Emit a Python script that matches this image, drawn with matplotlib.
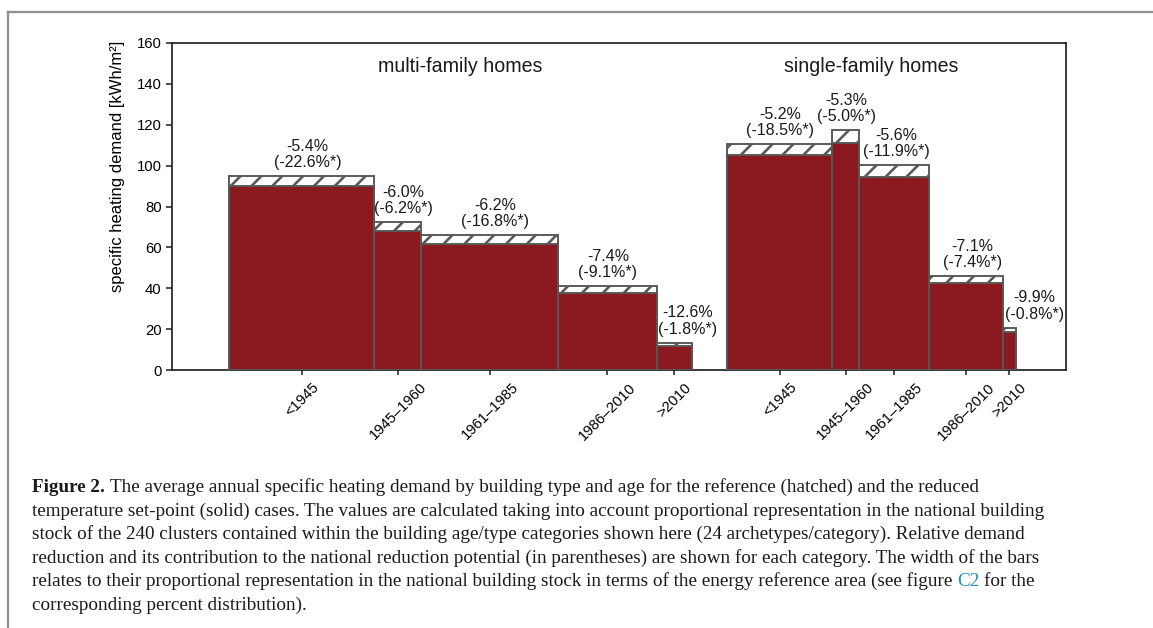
import matplotlib
matplotlib.use("Agg")
import matplotlib.pyplot as plt
from matplotlib.lines import Line2D
import numpy as np

# ---- data -------------------------------------------------------------
age_classes = ["<1945", "1945–1960", "1961–1985", "1986–2010", ">2010"]

# share of national energy reference area [%] (bar widths)
share_mf = [19.3, 6.3, 18.2, 13.1, 4.7]
share_sf = [14.0, 3.5, 9.4, 9.8, 1.7]

# specific heating demand [kWh/m2], reference set-point (hatched)
ref_mf = [95.0, 72.5, 65.9, 40.9, 13.4]
ref_sf = [110.7, 117.2, 100.2, 46.1, 20.7]

# specific heating demand [kWh/m2], reduced set-point (solid)
red_mf = [89.8, 68.1, 61.7, 37.9, 11.6]
red_sf = [105.0, 110.9, 94.6, 42.6, 18.5]

# relative reduction [%] and contribution to national potential [%]
rel_mf = [-5.4, -6.0, -6.2, -7.4, -12.6]
nat_mf = [-22.6, -6.2, -16.8, -9.1, -1.8]
rel_sf = [-5.2, -5.3, -5.6, -7.1, -9.9]
nat_sf = [-18.5, -5.0, -11.9, -7.4, -0.8]

group_titles = ["multi-family homes", "single-family homes"]
y_ticks = [0, 20, 40, 60, 80, 100, 120, 140, 160]

caption_lines = [
    [("Figure 2.", "bold", "#1a1a1a"),
     ("The average annual specific heating demand by building type and age for the reference (hatched) and the reduced",
      "normal", "#1a1a1a")],
    [("temperature set-point (solid) cases. The values are calculated taking into account proportional representation in the national building",
      "normal", "#1a1a1a")],
    [("stock of the 240 clusters contained within the building age/type categories shown here (24 archetypes/category). Relative demand",
      "normal", "#1a1a1a")],
    [("reduction and its contribution to the national reduction potential (in parentheses) are shown for each category. The width of the bars",
      "normal", "#1a1a1a")],
    [("relates to their proportional representation in the national building stock in terms of the energy reference area (see figure",
      "normal", "#1a1a1a"),
     ("C2", "normal", "#2a8cc4"),
     ("for the", "normal", "#1a1a1a")],
    [("corresponding percent distribution).", "normal", "#1a1a1a")],
]

# ---- style ------------------------------------------------------------
plt.rcParams['font.family'] = ['Liberation Sans', 'DejaVu Sans']
plt.rcParams['hatch.linewidth'] = 1.5

W, H, DPI = 1153, 628, 125
BAR_RED = '#8a1a20'
EDGE = '#585858'
SPINE = '#222222'

fig = plt.figure(figsize=(W / DPI, H / DPI), dpi=DPI)
ax = fig.add_axes([172 / W, 1 - 370 / H, (1066 - 172) / W, (370 - 43) / H])

group_gap = 4.7
starts = [0.0, sum(share_mf) + group_gap]
label_dx = [[6, 5.5, 5, 0.5, 13.5], [0, 1, 2.7, 6, 25]]  # label nudges in px


def draw_group(x0, shares, ref, red, rel, nat, dx):
    shares = np.asarray(shares)
    lefts = x0 + np.concatenate([[0.0], np.cumsum(shares)[:-1]])
    centers = lefts + shares / 2
    ax.bar(lefts, ref, width=shares, align='edge', facecolor='white',
           edgecolor=EDGE, hatch='//', linewidth=1.1, zorder=2)
    ax.bar(lefts, red, width=shares, align='edge', facecolor=BAR_RED,
           edgecolor=EDGE, linewidth=1.1, zorder=3)
    for c, r, a, b, o in zip(centers, ref, rel, nat, dx):
        ax.annotate(f"{a:.1f}%\n({b:.1f}%*)", xy=(c, r), xytext=(o, 6),
                    textcoords='offset pixels', ha='center', va='bottom',
                    fontsize=9.2, linespacing=1.1, color='#1a1a1a', zorder=4)
    return list(centers)


centers = []
centers += draw_group(starts[0], share_mf, ref_mf, red_mf, rel_mf, nat_mf, label_dx[0])
centers += draw_group(starts[1], share_sf, ref_sf, red_sf, rel_sf, nat_sf, label_dx[1])

ax.set_xlim(-7.6, 111.4)
ax.set_ylim(0, 160)
ax.set_yticks(y_ticks)
ax.set_xticks(centers)
ax.set_xticklabels(age_classes * 2, rotation=45, ha='center', fontsize=8.5)
ax.tick_params(axis='y', labelsize=8.6, length=3.5, width=0.9, color=SPINE, pad=2.5)
ax.tick_params(axis='x', length=2.9, width=0.9, color=SPINE, pad=3.0)
for s in ax.spines.values():
    s.set_color(SPINE)
    s.set_linewidth(1.0)

ax.set_ylabel("specific heating demand [kWh/m²]", fontsize=9.6)
ax.yaxis.label.set_va('center')
ax.yaxis.set_label_coords((117 - 172) / (1066 - 172), (370 - 166) / (370 - 43))

# group titles centred over each group of bars
title_y = (370 - 67) / (370 - 43)
for x0, shares, title in zip(starts, [share_mf, share_sf], group_titles):
    ax.text(x0 + sum(shares) / 2, title_y, title,
            transform=ax.get_xaxis_transform(),
            ha='center', va='center', fontsize=11.3, color='#1a1a1a')

# ---- frame lines --------------------------------------------------------
frame_kw = dict(transform=fig.transFigure, color='#8f8f8f', linewidth=1.3)
fig.add_artist(Line2D([8 / W, 1.0], [1 - 12 / H, 1 - 12 / H], **frame_kw))
fig.add_artist(Line2D([8 / W, 8 / W], [0.0, 1 - 12 / H], **frame_kw))

# ---- caption ----------------------------------------------------------
cap_font = dict(family=['Liberation Serif', 'DejaVu Serif'], fontsize=11.0)
renderer = fig.canvas.get_renderer()


def text_width(s, weight='normal'):
    t = fig.text(0, 0, s, fontweight=weight, **cap_font)
    w = t.get_window_extent(renderer).width
    t.remove()
    return w


space_w = text_width("x x") - text_width("xx")
x_left = 32
baseline0 = 492
line_step = 23.5
for i, pieces in enumerate(caption_lines):
    x = x_left
    y = H - (baseline0 + i * line_step)
    for j, (s, weight, color) in enumerate(pieces):
        t = fig.text(x / W, y / H, s, fontweight=weight, color=color,
                     ha='left', va='baseline', **cap_font)
        x += t.get_window_extent(renderer).width + space_w

fig.savefig("out.png", dpi=DPI)
